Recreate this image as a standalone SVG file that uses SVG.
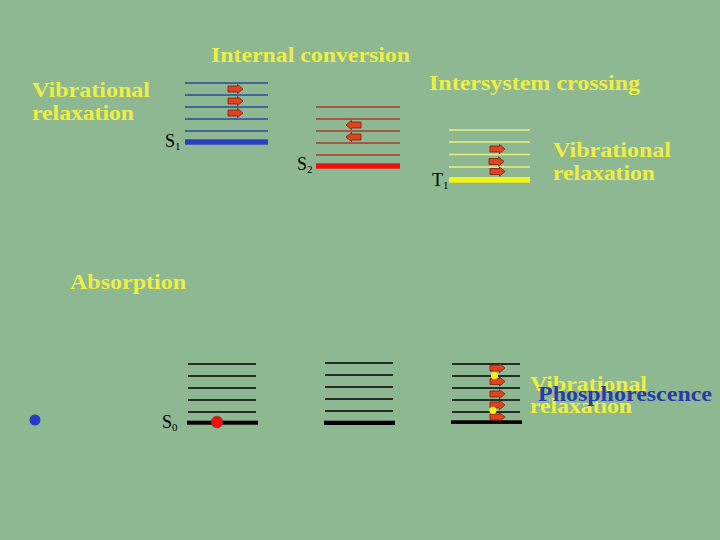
<svg xmlns="http://www.w3.org/2000/svg" xmlns:xlink="http://www.w3.org/1999/xlink" width="720" height="540" viewBox="0 0 720 540">
<style>
.lbl{font-family:"Liberation Serif","Times New Roman",serif;font-weight:bold;font-size:22px;fill:#eeee44}
.ph{font-family:"Liberation Serif","Times New Roman",serif;font-weight:bold;font-size:22px;fill:#2a3aa8}
.st{font-family:"Liberation Serif","Times New Roman",serif;font-size:18px;fill:#000}
.sub{font-size:11px}
.lb{stroke:#2b4a9c;stroke-width:1.3}
.lr{stroke:#a83a30;stroke-width:1.3}
.ly{stroke:#e6f080;stroke-width:1.3}
.lk{stroke:#000;stroke-width:1.4}
</style>
<defs>
<path id="arr" d="M0,-3H9.5V-4.6L15,0L9.5,4.6V3H0Z" fill="#e0441e" stroke="#7a1a10" stroke-width="0.8"/>
</defs>
<rect width="720" height="540" fill="#8db892"/>

<g id="s1">
<line class="lb" x1="185" y1="83" x2="268" y2="83"/>
<line class="lb" x1="185" y1="95" x2="268" y2="95"/>
<line class="lb" x1="185" y1="107" x2="268" y2="107"/>
<line class="lb" x1="185" y1="119" x2="268" y2="119"/>
<line class="lb" x1="185" y1="131" x2="268" y2="131"/>
<rect x="185" y="139.3" width="83" height="5.4" fill="#2a3ec4"/>
<text class="st" x="165" y="147">S<tspan class="sub" dy="3">1</tspan></text>
</g>

<g id="s2">
<line class="lr" x1="316" y1="107" x2="400" y2="107"/>
<line class="lr" x1="316" y1="119" x2="400" y2="119"/>
<line class="lr" x1="316" y1="131" x2="400" y2="131"/>
<line class="lr" x1="316" y1="143" x2="400" y2="143"/>
<line class="lr" x1="316" y1="155" x2="400" y2="155"/>
<rect x="316" y="163.3" width="84" height="5.4" fill="#ee1111"/>
<text class="st" x="297" y="170">S<tspan class="sub" dy="3">2</tspan></text>
</g>

<g id="t1">
<line class="ly" x1="449" y1="130" x2="530" y2="130"/>
<line class="ly" x1="449" y1="142" x2="530" y2="142"/>
<line class="ly" x1="449" y1="154.5" x2="530" y2="154.5"/>
<line class="ly" x1="449" y1="167" x2="530" y2="167"/>
<rect x="449" y="177" width="81" height="5.7" fill="#f4f416"/>
<text class="st" x="432" y="186">T<tspan class="sub" dy="3">1</tspan></text>
</g>

<g id="s0">
<line class="lk" x1="188" y1="364" x2="256" y2="364"/>
<line class="lk" x1="188" y1="376" x2="256" y2="376"/>
<line class="lk" x1="188" y1="388" x2="256" y2="388"/>
<line class="lk" x1="188" y1="400" x2="256" y2="400"/>
<line class="lk" x1="188" y1="412" x2="256" y2="412"/>
<rect x="187" y="420.7" width="71" height="4" fill="#000"/>
<circle cx="217" cy="422" r="5.8" fill="#ee1111" stroke="#902020" stroke-width="0.6"/>
<text class="st" x="162" y="428">S<tspan class="sub" dy="3">0</tspan></text>
</g>

<g id="g-mid">
<line class="lk" x1="325" y1="363" x2="393" y2="363"/>
<line class="lk" x1="325" y1="375" x2="393" y2="375"/>
<line class="lk" x1="325" y1="387" x2="393" y2="387"/>
<line class="lk" x1="325" y1="399" x2="393" y2="399"/>
<line class="lk" x1="325" y1="411" x2="393" y2="411"/>
<rect x="324" y="420.7" width="71" height="4.3" fill="#000"/>
</g>

<g id="g-right">
<line class="lk" x1="452" y1="364" x2="520" y2="364"/>
<line class="lk" x1="452" y1="376" x2="520" y2="376"/>
<line class="lk" x1="452" y1="388" x2="520" y2="388"/>
<line class="lk" x1="452" y1="400" x2="520" y2="400"/>
<line class="lk" x1="452" y1="412" x2="520" y2="412"/>
<rect x="451" y="420.3" width="71" height="3.6" fill="#000"/>
</g>

<g id="connectors">
<use xlink:href="#arr" x="228" y="89"/>
<use xlink:href="#arr" x="228" y="101"/>
<use xlink:href="#arr" x="228" y="113"/>
<use xlink:href="#arr" transform="translate(361,125) scale(-1,1)"/>
<use xlink:href="#arr" transform="translate(361,137) scale(-1,1)"/>
<use xlink:href="#arr" x="490" y="149"/>
<use xlink:href="#arr" x="489" y="161.5"/>
<use xlink:href="#arr" x="490" y="171.5"/>
<use xlink:href="#arr" x="490" y="368"/>
<use xlink:href="#arr" x="490" y="381.5"/>
<use xlink:href="#arr" x="490" y="394"/>
<use xlink:href="#arr" x="490" y="405"/>
<use xlink:href="#arr" x="490" y="417"/>
<circle cx="494.5" cy="375.7" r="3.6" fill="#f4f416"/>
<circle cx="493" cy="410.3" r="3.6" fill="#f4f416"/>
</g>

<circle id="dot" cx="35" cy="420" r="5.5" fill="#2a3ac8"/>

<g id="labels">
<text class="lbl" x="211" y="62" textLength="199" lengthAdjust="spacingAndGlyphs">Internal conversion</text>
<text class="lbl" x="429" y="90" textLength="211" lengthAdjust="spacingAndGlyphs">Intersystem crossing</text>
<text class="lbl" x="32" y="97" textLength="118" lengthAdjust="spacingAndGlyphs">Vibrational</text>
<text class="lbl" x="32" y="120" textLength="102" lengthAdjust="spacingAndGlyphs">relaxation</text>
<text class="lbl" x="553" y="157" textLength="118" lengthAdjust="spacingAndGlyphs">Vibrational</text>
<text class="lbl" x="553" y="180" textLength="102" lengthAdjust="spacingAndGlyphs">relaxation</text>
<text class="lbl" x="70" y="289" textLength="116" lengthAdjust="spacingAndGlyphs">Absorption</text>
<text class="lbl" x="530" y="391" textLength="117" lengthAdjust="spacingAndGlyphs">Vibrational</text>
<text class="lbl" x="530" y="413" textLength="102" lengthAdjust="spacingAndGlyphs">relaxation</text>
<text class="ph" x="538" y="401" textLength="174" lengthAdjust="spacingAndGlyphs">Phosphorescence</text>
</g>
</svg>
